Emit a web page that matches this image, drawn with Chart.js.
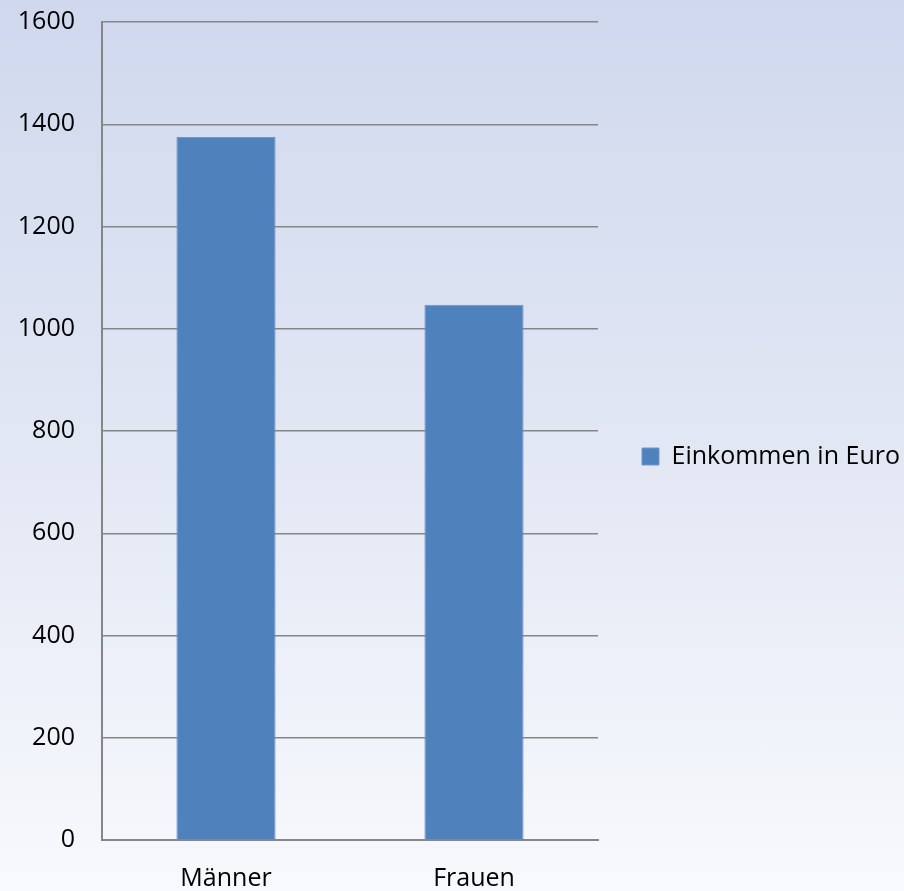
<!DOCTYPE html>
<html>
<head>
<meta charset="utf-8">
<script src="https://cdn.jsdelivr.net/npm/chart.js@4.4.0/dist/chart.umd.min.js"></script>
<style>
  html, body { margin: 0; padding: 0; }
  body {
    width: 904px; height: 891px; overflow: hidden;
    background: linear-gradient(to bottom, #cfd8ed 0%, #e2e7f4 50%, #f8f9fd 100%);
  }
  #wrap { position: relative; width: 904px; height: 891px; }
</style>
</head>
<body>
<div id="wrap"><canvas id="chart"></canvas></div>
<script>
// data
const categories = ['Männer', 'Frauen'];
const einkommen = [1375, 1047];
const seriesLabel = 'Einkommen in Euro';
const yTicks = [0, 200, 400, 600, 800, 1000, 1200, 1400, 1600];

const font = { family: '"Open Sans", sans-serif', size: 25 };
const axisGray = '#868686';
const legendWidth = 306;

// chart.js caps a right-hand legend at a quarter of the width, widen it
const wideLegend = {
  id: 'wideLegend',
  beforeLayout(chart) {
    const lg = chart.legend;
    if (lg && !lg._wide) {
      const fit = lg.fit;
      lg.fit = function () {
        fit.call(this);
        this.width = Math.max(this.width, legendWidth);
      };
      lg._wide = true;
    }
  }
};

const ctx = document.getElementById('chart').getContext('2d');
new Chart(ctx, {
  type: 'bar',
  data: {
    labels: categories,
    datasets: [{
      label: seriesLabel,
      data: einkommen,
      backgroundColor: '#4f81bd',
      borderColor: '#6f97cb',
      borderWidth: 1,
      barPercentage: 0.4,
      categoryPercentage: 1
    }]
  },
  plugins: [wideLegend],
  options: {
    responsive: true,
    maintainAspectRatio: false,
    animation: false,
    layout: { padding: { left: 10, right: 0, top: 22, bottom: 0 } },
    plugins: {
      tooltip: { enabled: false },
      legend: {
        position: 'right',
        labels: {
          color: '#000',
          font: font,
          boxWidth: 17,
          boxHeight: 17,
          padding: 44
        }
      }
    },
    scales: {
      x: {
        grid: { display: false, drawTicks: false },
        border: { display: true, color: axisGray, width: 2 },
        ticks: { color: '#000', font: font, padding: 24 },
        afterFit: (axis) => { axis.height = 51; }
      },
      y: {
        min: 0,
        max: 1600,
        afterBuildTicks: (axis) => { axis.ticks = yTicks.map(v => ({ value: v })); },
        grid: { color: axisGray, lineWidth: 1.5, drawTicks: true, tickLength: 22, tickColor: 'transparent' },
        border: { display: true, color: axisGray, width: 2 },
        ticks: { color: '#000', font: font, padding: 5, callback: (v) => String(v) },
        afterFit: (axis) => { axis.width = 92; }
      }
    }
  }
});
</script>
</body>
</html>
